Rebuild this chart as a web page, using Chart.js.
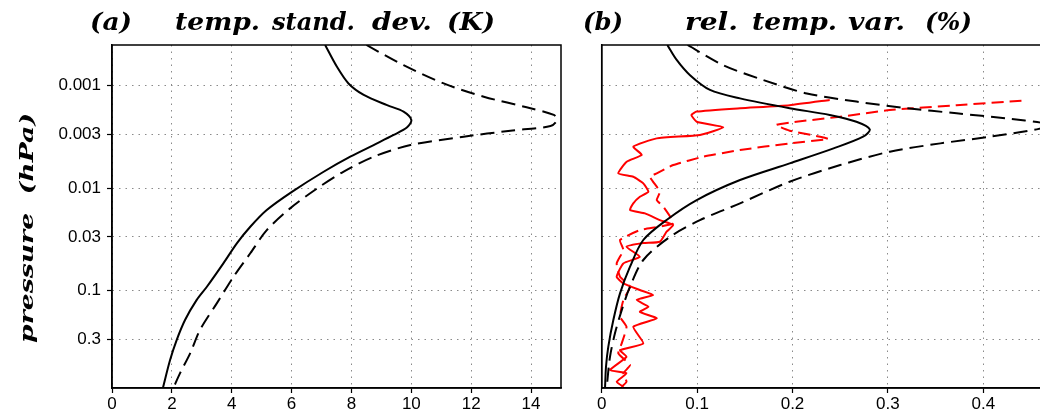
<!DOCTYPE html>
<html>
<head>
<meta charset="utf-8">
<script src="https://cdn.jsdelivr.net/npm/chart.js@4.4.1/dist/chart.umd.min.js"></script>
<style>
html, body { margin: 0; padding: 0; background: #fff; overflow: hidden; width: 1040px; height: 415px; }
#wrapA { position: absolute; left: 0; top: 0; }
#wrapB { position: absolute; left: 580px; top: 0; }
</style>
</head>
<body>
<div id="wrapA"><canvas id="chartA" width="580" height="415"></canvas></div>
<div id="wrapB"><canvas id="chartB" width="520" height="415"></canvas></div>
<script>
// axis ticks
const pressureTicks = [0.001, 0.003, 0.01, 0.03, 0.1, 0.3];
const pressureLabels = ['0.001', '0.003', '0.01', '0.03', '0.1', '0.3'];
const sdTicks = [0, 2, 4, 6, 8, 10, 12, 14];
const sdLabels = ['0', '2', '4', '6', '8', '10', '12', '14'];
const relTicks = [0, 0.1, 0.2, 0.3, 0.4];
const relLabels = ['0', '0.1', '0.2', '0.3', '0.4'];

// (a) temp. standard deviation (K) vs pressure (hPa)
const sdSolidK = [7.12, 7.51, 7.90, 8.41, 9.19, 9.74, 10.0, 9.86, 9.41, 8.74, 7.96, 7.07, 6.01, 5.17, 4.62, 4.17, 3.72, 3.17, 2.83, 2.44, 2.16, 1.94, 1.70];
const sdSolidP = [0.0004, 0.00065, 0.00095, 0.00123, 0.00155, 0.00179, 0.00216, 0.00255, 0.00303, 0.0038, 0.00494, 0.00693, 0.0109, 0.0164, 0.0239, 0.0347, 0.0545, 0.0922, 0.124, 0.195, 0.306, 0.48, 0.9];
const sdDashK = [8.5, 9.74, 11.08, 12.42, 13.98, 14.76, 14.87, 14.65, 13.31, 11.75, 9.97, 8.74, 7.74, 6.85, 5.95, 5.17, 4.62, 4.06, 3.50, 2.94, 2.61, 2.27, 2.05];
const sdDashP = [0.0004, 0.00063, 0.00095, 0.00128, 0.00166, 0.00193, 0.00216, 0.00248, 0.00275, 0.00315, 0.0038, 0.00494, 0.0069, 0.0101, 0.0158, 0.0258, 0.0434, 0.0736, 0.134, 0.244, 0.413, 0.648, 0.9];

// (b) relative temp. variation (%) vs pressure (hPa)
const relSolidPct = [0.0688, 0.0786, 0.0926, 0.1135, 0.145, 0.197, 0.239, 0.267, 0.281, 0.274, 0.243, 0.197, 0.145, 0.0996, 0.068, 0.0436, 0.0297, 0.0192, 0.0122, 0.0069, 0.0045, 0.0035];
const relSolidP = [0.0004, 0.00056, 0.00079, 0.0011, 0.00133, 0.00166, 0.00193, 0.00225, 0.00267, 0.00315, 0.0041, 0.00574, 0.00835, 0.0131, 0.0205, 0.0322, 0.0587, 0.107, 0.195, 0.356, 0.558, 0.9];
const relDashPct = [0.09, 0.1275, 0.1694, 0.215, 0.267, 0.320, 0.372, 0.4245, 0.47, 0.456, 0.407, 0.355, 0.302, 0.25, 0.197, 0.145, 0.103, 0.0716, 0.0436, 0.0297, 0.021, 0.0139, 0.0087, 0.0052];
const relDashP = [0.0004, 0.00063, 0.00088, 0.00119, 0.00143, 0.00166, 0.00186, 0.00209, 0.0024, 0.00267, 0.00315, 0.00366, 0.00441, 0.00596, 0.00867, 0.0141, 0.0206, 0.030, 0.0505, 0.092, 0.156, 0.263, 0.446, 0.9];
const relRedSolidPct = [0.239, 0.197, 0.145, 0.0996, 0.094, 0.0996, 0.1275, 0.103, 0.0577, 0.0331, 0.042, 0.0262, 0.0174, 0.0331, 0.0436, 0.0489, 0.040, 0.0331, 0.0297, 0.0454, 0.061, 0.075, 0.068, 0.061, 0.0436, 0.026, 0.040, 0.0227, 0.0157, 0.0227, 0.040, 0.054, 0.0367, 0.049, 0.040, 0.0577, 0.0331, 0.0436, 0.0192, 0.026, 0.0087, 0.026, 0.0157, 0.0227];
const relRedSolidP = [0.00138, 0.00155, 0.00166, 0.00179, 0.00193, 0.00225, 0.00255, 0.00303, 0.00327, 0.00394, 0.00475, 0.00553, 0.00718, 0.00776, 0.0090, 0.01086, 0.01216, 0.0141, 0.0164, 0.0177, 0.0206, 0.0230, 0.0267, 0.0335, 0.0345, 0.0375, 0.047, 0.0545, 0.0736, 0.0855, 0.0993, 0.111, 0.124, 0.1445, 0.162, 0.188, 0.227, 0.33, 0.384, 0.446, 0.601, 0.647, 0.782, 0.875];
const relRedDashPct = [0.440, 0.372, 0.302, 0.25, 0.204, 0.183, 0.197, 0.229, 0.2375, 0.197, 0.145, 0.1065, 0.075, 0.0577, 0.0506, 0.061, 0.0577, 0.0646, 0.075, 0.040, 0.0192, 0.0227, 0.0157, 0.0192, 0.0297, 0.0227, 0.0192, 0.026, 0.021, 0.0174, 0.0297, 0.0227, 0.026, 0.021];
const relRedDashP = [0.0014, 0.00155, 0.00173, 0.00201, 0.00225, 0.00242, 0.00275, 0.00315, 0.00332, 0.00366, 0.00425, 0.00494, 0.00596, 0.00718, 0.00776, 0.01086, 0.0131, 0.0152, 0.0221, 0.0258, 0.0322, 0.0404, 0.0545, 0.0736, 0.0922, 0.124, 0.181, 0.227, 0.33, 0.413, 0.537, 0.647, 0.782, 0.875];

function pts(xs, ps) {
    return xs.map((x, i) => ({ x: x, y: ps[i] }));
}

function line(xs, ps, color, dash, tension) {
    return {
        data: pts(xs, ps), showLine: true, borderColor: color, borderWidth: 2,
        borderDash: dash, pointRadius: 0, tension: tension, fill: false
    };
}

// draw text squeezed/stretched to fit between x0 and x1
function fitText(ctx, text, x0, x1, y) {
    const w = ctx.measureText(text).width;
    ctx.save();
    ctx.translate(x0, y);
    ctx.scale((x1 - x0) / w, 1);
    ctx.fillText(text, 0, 0);
    ctx.restore();
}

const titleFont = "bold italic 24px 'DejaVu Serif'";

// frame box + titles
const framePlugin = {
    id: 'frame',
    afterDraw(chart, args, opts) {
        const ctx = chart.ctx;
        const a = chart.chartArea;
        ctx.save();
        ctx.strokeStyle = '#000';
        ctx.lineWidth = 1.5;
        ctx.strokeRect(a.left, a.top, a.right - a.left, a.bottom - a.top);
        ctx.fillStyle = '#000';
        ctx.font = titleFont;
        ctx.textBaseline = 'alphabetic';
        (opts.words || []).forEach(w => fitText(ctx, w[0], w[1] - opts.offset, w[2] - opts.offset, 30));
        if (opts.yTitle) {
            ctx.font = "bold italic 19px 'DejaVu Serif'";
            ctx.translate(33, 343);
            ctx.rotate(-Math.PI / 2);
            fitText(ctx, opts.yTitle, 0, 230, 0);
        }
        ctx.restore();
    }
};

const tickFont = { family: "'Liberation Sans', Arial, sans-serif", size: 17 };

function xScale(max, ticks, labels) {
    return {
        type: 'linear', min: 0, max: max,
        afterBuildTicks: s => { s.ticks = ticks.map(v => ({ value: v })); },
        afterFit: s => { s.height = 27; },
        ticks: { color: '#000', font: tickFont, padding: 1, maxRotation: 0, autoSkip: false, callback: (v, i) => labels[i] },
        grid: { color: '#8a8a8a', lineWidth: 1, tickColor: '#000', tickLength: 5, tickWidth: 1.2 },
        border: { display: true, color: '#000', width: 1.5, dash: [1.5, 5] }
    };
}

function yScale(width, showLabels) {
    return {
        type: 'logarithmic', reverse: true, min: 0.0004, max: 0.9,
        afterBuildTicks: s => { s.ticks = pressureTicks.map(v => ({ value: v })); },
        afterFit: s => { s.width = width; },
        ticks: { display: showLabels, color: '#000', font: tickFont, padding: 6, callback: (v, i) => pressureLabels[i] },
        grid: { color: '#8a8a8a', lineWidth: 1, drawTicks: showLabels, tickColor: '#000', tickLength: 5, tickWidth: 1.2 },
        border: { display: true, color: '#000', width: 1.5, dash: [1.5, 5] }
    };
}

const common = {
    responsive: false, animation: false, events: [],
    plugins: { legend: { display: false }, tooltip: { enabled: false } }
};

new Chart(document.getElementById('chartA'), {
    type: 'scatter',
    data: {
        datasets: [
            line(sdSolidK, sdSolidP, '#000', [], 0.3),
            line(sdDashK, sdDashP, '#000', [14, 7], 0.3)
        ]
    },
    options: Object.assign({}, common, {
        layout: { padding: { top: 45, right: 19, left: 0, bottom: 0 } },
        scales: { x: xScale(15, sdTicks, sdLabels), y: yScale(112, true) },
        plugins: Object.assign({}, common.plugins, {
            frame: {
                offset: 0,
                words: [['(a)', 90, 132], ['temp.', 175, 260], ['stand.', 272, 355], ['dev.', 372, 432], ['(K)', 447, 495]],
                yTitle: 'pressure  (hPa)'
            }
        })
    }),
    plugins: [framePlugin]
});

new Chart(document.getElementById('chartB'), {
    type: 'scatter',
    data: {
        datasets: [
            line(relSolidPct, relSolidP, '#000', [], 0.3),
            line(relDashPct, relDashP, '#000', [14, 7], 0.3),
            line(relRedSolidPct, relRedSolidP, '#ff0000', [], 0.15),
            line(relRedDashPct, relRedDashP, '#ff0000', [12, 6], 0.15)
        ]
    },
    options: Object.assign({}, common, {
        layout: { padding: { top: 45, right: 21.3, left: 21.7, bottom: 0 } },
        scales: { x: xScale(0.5, relTicks, relLabels), y: yScale(0, false) },
        plugins: Object.assign({}, common.plugins, {
            frame: {
                offset: 580,
                words: [['(b)', 583, 623], ['rel.', 685, 738], ['temp.', 752, 837], ['var.', 848, 905], ['(%)', 925, 972]]
            }
        })
    }),
    plugins: [framePlugin]
});
</script>
</body>
</html>
